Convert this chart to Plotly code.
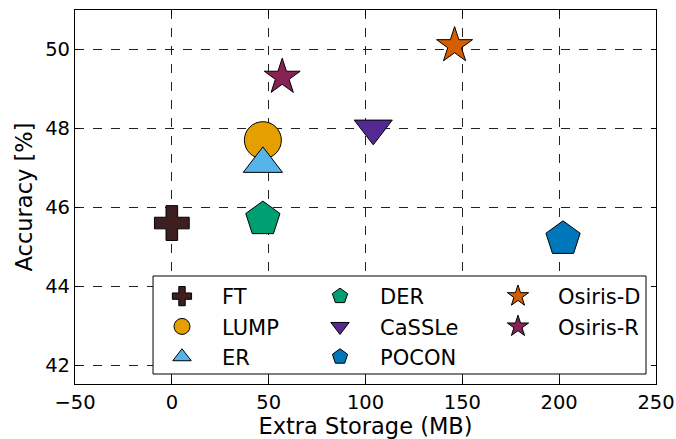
import plotly.graph_objects as go

methods = ["FT", "LUMP", "ER", "DER", "CaSSLe", "POCON", "Osiris-D", "Osiris-R"]
storage = [0, 47, 47, 47, 104, 202, 146, 57]
accuracy = [45.6, 47.7, 47.1, 45.7, 48.0, 45.2, 50.1, 49.3]
symbols = ["cross", "circle", "triangle-up", "pentagon", "triangle-down", "pentagon", "star", "star"]
colors = ["#3d1f1f", "#E69F00", "#56B4E9", "#009E73", "#542a92", "#0077BB", "#D55E00", "#882255"]
sizes = [29, 37, 34, 36, 33, 36, 27, 27]
legend_column = ["legend", "legend", "legend", "legend2", "legend2", "legend2", "legend3", "legend3"]

fig = go.Figure()
for i, name in enumerate(methods):
    fig.add_trace(go.Scatter(
        x=[storage[i]], y=[accuracy[i]], mode="markers", name=name,
        legend=legend_column[i],
        marker=dict(symbol=symbols[i], size=sizes[i], color=colors[i],
                    line=dict(color="black", width=1)),
    ))

font = "DejaVu Sans"
axis_common = dict(
    showline=True, linecolor="black", linewidth=1.2, mirror="ticks",
    ticks="inside", ticklen=5, tickcolor="black",
    showgrid=True, gridcolor="#222222", griddash="dash", gridwidth=1,
    zeroline=False, automargin=False,
    tickfont=dict(family=font, size=19.5, color="black"),
)
fig.update_xaxes(range=[-50, 250], dtick=50, title=dict(text="Extra Storage (MB)",
                 font=dict(family=font, size=22.5, color="black"), standoff=6), **axis_common)
fig.update_yaxes(range=[41.52, 51.0], dtick=2, title=dict(text="Accuracy [%]",
                 font=dict(family=font, size=22.5, color="black"), standoff=6), **axis_common)

leg_common = dict(
    orientation="v", xanchor="left", yanchor="top", y=0.2888,
    bgcolor="rgba(0,0,0,0)", borderwidth=0, itemsizing="trace", itemwidth=70,
    font=dict(family=font, size=21, color="black"), tracegroupgap=0,
)

fig.update_layout(
    width=676, height=439,
    margin=dict(l=75, r=20, t=10, b=55),
    plot_bgcolor="white", paper_bgcolor="white",
    font=dict(family=font, size=20, color="black"),
    legend=dict(x=0.1153, **leg_common),
    legend2=dict(x=0.3873, **leg_common),
    legend3=dict(x=0.6936, **leg_common),
    shapes=[dict(type="rect", xref="paper", yref="paper",
                 x0=0.1343, x1=0.9828, y0=0.0267, y1=0.2888,
                 fillcolor="white", line=dict(color="black", width=1), layer="above")],
)

fig.write_html("out.html", config={"displayModeBar": False},
               post_script="document.body.style.margin='0';")
